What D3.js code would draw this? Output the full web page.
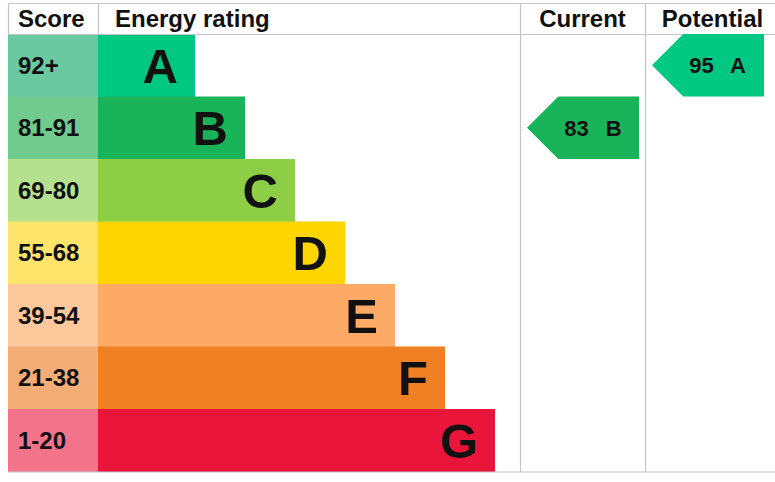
<!DOCTYPE html>
<html>
<head>
<meta charset="utf-8">
<script src="https://cdn.jsdelivr.net/npm/d3@7"></script>
<style>
  html, body { margin: 0; padding: 0; background: #fff; }
  svg { display: block; font-family: "Liberation Sans", Arial, sans-serif; }
</style>
</head>
<body>
<svg id="chart"></svg>
<script>
// bands, best to worst
const bands = ["A", "B", "C", "D", "E", "F", "G"];
const scoreRanges = ["92+", "81-91", "69-80", "55-68", "39-54", "21-38", "1-20"];
const bandMinScore = [92, 81, 69, 55, 39, 21, 1];

const currentScore = 83;
const potentialScore = 95;

// colours
const barColors = ["#00c781", "#19b459", "#8dce46", "#ffd500", "#fcaa65", "#ef8023", "#e9153b"];
const scoreColors = ["#6ac9a0", "#72cb8e", "#b5e08d", "#ffe46b", "#fdc79c", "#f4ad76", "#f3738a"];
const lineColor = "#c4c4c4";
const textColor = "#111";

const width = 775;
const height = 482;

const svg = d3.select("#chart").attr("width", width).attr("height", height);

const gridLeft = 8;
const gridTop = 3;
const headerBottom = 34;
const gridBottom = 471.5;
const scoreRight = 98;
const currentLeft = 520;
const potentialLeft = 645;

const bandOf = (score) => bands[bandMinScore.findIndex((m) => score >= m)];

// rows
const y = d3.scaleBand().domain(bands).range([headerBottom, gridBottom]);
// where each bar ends
const barEnd = d3.scalePoint().domain(bands).range([195, 495]);

// score column
svg.selectAll(".score-cell")
  .data(bands)
  .enter()
  .append("rect")
  .attr("x", gridLeft)
  .attr("y", (d) => y(d))
  .attr("width", scoreRight - gridLeft)
  .attr("height", y.bandwidth() + 0.5)
  .attr("fill", (d, i) => scoreColors[i]);

svg.selectAll(".score-label")
  .data(bands)
  .enter()
  .append("text")
  .attr("x", 18)
  .attr("y", (d) => y(d) + y.bandwidth() / 2 + 8.5)
  .style("font-size", "24px")
  .style("font-weight", "bold")
  .style("fill", textColor)
  .text((d, i) => scoreRanges[i]);

// bars
svg.selectAll(".bar")
  .data(bands)
  .enter()
  .append("rect")
  .attr("x", scoreRight)
  .attr("y", (d) => y(d))
  .attr("width", (d) => barEnd(d) - scoreRight)
  .attr("height", y.bandwidth() + 0.5)
  .attr("fill", (d, i) => barColors[i]);

svg.selectAll(".bar-letter")
  .data(bands)
  .enter()
  .append("text")
  .attr("x", (d) => barEnd(d) - 17)
  .attr("y", (d) => y(d) + y.bandwidth() / 2 + 17.5)
  .attr("text-anchor", "end")
  .style("font-size", "49px")
  .style("font-weight", "bold")
  .style("fill", textColor)
  .text((d) => d);

// grid lines
const lines = [
  [gridLeft, gridTop, width, gridTop],
  [gridLeft, headerBottom, width, headerBottom],
  [gridLeft, gridBottom, width, gridBottom],
  [gridLeft, gridTop, gridLeft, headerBottom],
  [scoreRight, gridTop, scoreRight, headerBottom],
  [currentLeft, gridTop, currentLeft, gridBottom],
  [potentialLeft, gridTop, potentialLeft, gridBottom],
];
svg.selectAll(".grid")
  .data(lines)
  .enter()
  .append("line")
  .attr("x1", (d) => d[0] + 0.5)
  .attr("y1", (d) => d[1] + 0.5)
  .attr("x2", (d) => d[2] + 0.5)
  .attr("y2", (d) => d[3] + 0.5)
  .attr("stroke", lineColor)
  .attr("stroke-width", 1.2);

// headers
const headers = [
  { text: "Score", x: 18, anchor: "start" },
  { text: "Energy rating", x: 115, anchor: "start" },
  { text: "Current", x: currentLeft + 62.5, anchor: "middle" },
  { text: "Potential", x: potentialLeft + 67.5, anchor: "middle" },
];
svg.selectAll(".header")
  .data(headers)
  .enter()
  .append("text")
  .attr("x", (d) => d.x)
  .attr("y", 27)
  .attr("text-anchor", (d) => d.anchor)
  .style("font-size", "24px")
  .style("font-weight", "bold")
  .style("fill", textColor)
  .text((d) => d.text);

// current / potential arrows
const ratings = [
  { score: currentScore, colLeft: currentLeft },
  { score: potentialScore, colLeft: potentialLeft },
];

ratings.forEach((r) => {
  const band = bandOf(r.score);
  const idx = bands.indexOf(band);
  const y0 = y(band);
  const h = y.bandwidth();
  const x0 = r.colLeft + 7;
  const x1 = r.colLeft + 119;
  const tip = h / 2;

  svg.append("path")
    .attr("d", `M${x0},${y0 + h / 2} L${x0 + tip},${y0} L${x1},${y0} L${x1},${y0 + h} L${x0 + tip},${y0 + h} Z`)
    .attr("fill", barColors[idx]);

  const label = svg.append("text")
    .attr("x", x0 + tip + 6)
    .attr("y", y0 + h / 2 + 8)
    .style("font-size", "22px")
    .style("font-weight", "bold")
    .style("fill", textColor);
  label.append("tspan").text(r.score);
  label.append("tspan").attr("dx", 11).text(" " + band);
});
</script>
</body>
</html>
